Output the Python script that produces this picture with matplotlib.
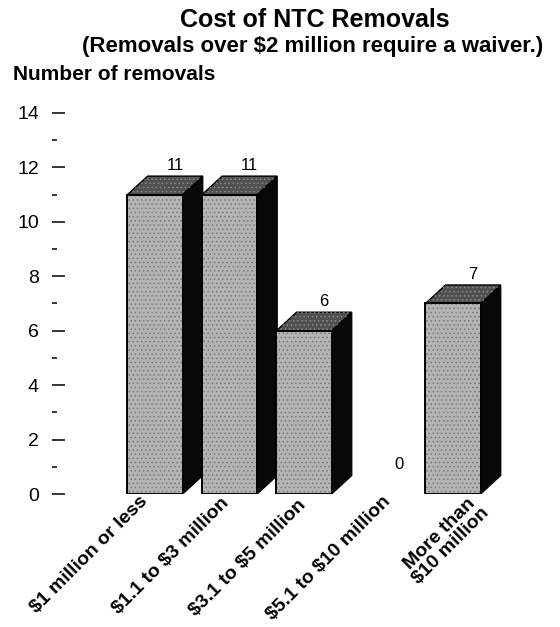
import numpy as np
import matplotlib
matplotlib.use('Agg')
import matplotlib.pyplot as plt
from matplotlib.patches import Rectangle, Polygon

plt.rcParams['font.family'] = ['Liberation Sans', 'DejaVu Sans']
plt.rcParams['hatch.linewidth'] = 0.6
plt.rcParams['text.parse_math'] = False

categories = ['$1 million or less', '$1.1 to $3 million', '$3.1 to $5 million',
              '$5.1 to $10 million', 'More than\n$10 million']
removals = [11, 11, 6, 0, 7]
y_ticks = [0, 2, 4, 6, 8, 10, 12, 14]

FRONT = '#b4b4b4'
TOP = '#505050'
SIDE = '#080808'
W = 0.74     # bar front width (x units)
DX = 0.27    # 3d depth in x
DY = 0.68    # 3d depth in y
# where each rotated label ends, relative to its bar (x units, y units)
label_off = [(-0.22, 0.03), (-0.12, -0.03), (-0.09, -0.09), (0.045, 0.03), (0.22, 0.06)]

fig = plt.figure(figsize=(5.6, 6.27), dpi=100)
ax = fig.add_axes([0.0929, 0.2121, 0.8714, 0.6077])
ax.set_xlim(-1.383, 5.168)
ax.set_ylim(0, 14)

xs = np.arange(len(categories))
for x, v in zip(xs, removals):
    if v > 0:
        l, r = x - W / 2, x + W / 2
        ax.add_patch(Polygon([(r, 0), (r + DX, DY), (r + DX, v + DY), (r, v)],
                             closed=True, facecolor=SIDE, edgecolor=SIDE, lw=1, zorder=2))
        ax.add_patch(Polygon([(l, v), (r, v), (r + DX, v + DY), (l + DX, v + DY)],
                             closed=True, facecolor=TOP, edgecolor='black', lw=1, zorder=2))
        ax.add_patch(Polygon([(l, v), (r, v), (r + DX, v + DY), (l + DX, v + DY)],
                             closed=True, fill=False, hatch='....', edgecolor='#8a8a8a', lw=0, zorder=2))
        ax.add_patch(Rectangle((l, 0), W, v, facecolor=FRONT, edgecolor='none', zorder=3))
        ax.add_patch(Rectangle((l, 0), W, v, fill=False, hatch='....', edgecolor='#7a7a7a', lw=0, zorder=3))
        ax.add_patch(Rectangle((l, 0), W, v, fill=False, edgecolor='black', lw=1.4, zorder=4))
    ax.text(x + DX, v + DY + 0.12, str(v), ha='center', va='bottom', fontsize=12)

# rotated category labels under the bars
for x, lab, (ox, oy) in zip(xs, categories, label_off):
    ax.text(x + ox, oy, lab, rotation=45, rotation_mode='anchor', ha='right', va='top',
            ma='center', fontsize=14, fontweight='bold', linespacing=0.95)

ax.set_xticks([])
ax.set_yticks(y_ticks)
ax.set_yticks(np.arange(1, 14, 2), minor=True)
ax.tick_params(axis='y', which='major', direction='in', length=9.4, width=1.1, pad=9.4, labelsize=14)
ax.tick_params(axis='y', which='minor', direction='in', length=3.6, width=1.1)
for s in ax.spines.values():
    s.set_visible(False)

fig.text(0.5625, 0.957, 'Cost of NTC Removals', ha='center', va='baseline',
         fontsize=18, fontweight='bold')
fig.text(0.559, 0.917, '(Removals over $2 million require a waiver.)', ha='center', va='baseline',
         fontsize=16, fontweight='bold')
fig.text(0.023, 0.872, 'Number of removals', ha='left', va='baseline',
         fontsize=15, fontweight='bold')

fig.savefig('out.png', dpi=100)
